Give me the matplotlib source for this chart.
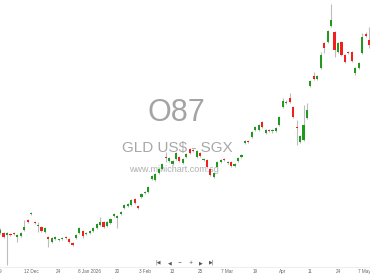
import matplotlib
matplotlib.use("Agg")
import matplotlib.pyplot as plt
import numpy as np

# candle data (price, arbitrary units, 1 unit ~ 1 px)
opens = [45, 45, 43, 44, 45, 41, 42, 48, 58, 64, 56, 52, 51, 46, 41, 36, 39, 38, 39, 41,
         39, 35, 40, 45, 47, 44, 45, 47, 50, 53, 56, 52, 55, 62, 60, 64, 70, 72, 73, 79,
         72, 81, 85, 86, 99, 98, 105, 109, 121, 117, 114, 119, 121, 115, 121, 129, 128, 121, 125, 118,
         118, 109, 101, 111, 116, 119, 115, 116, 112, 117, 121, 135, 137, 141, 148, 148, 156, 145, 148, 147,
         147, 153, 171, 175, 180, 171, 151, 136, 138, 160, 192, 202, 199, 210, 235, 236, 252, 246, 226, 236,
         223, 226, 226, 205, 210, 225, 244, 238]
closes = [48, 41, 45, 43, 44, 43, 45, 51, 56, 64.5, 55, 52.5, 47, 50, 39, 40, 41, 38.5, 40, 40,
          36, 33, 43, 50, 42, 45, 47, 50, 54, 56, 51, 56, 59, 64, 62, 66, 73, 74, 78, 75,
          70, 84, 85.5, 91, 102, 104, 109, 114, 120, 120, 117, 125, 117, 119, 124, 125, 127, 127, 122, 118.5,
          111, 103, 105, 116, 118, 118, 116, 112, 114, 120, 123, 137, 136, 146, 151, 153, 151, 148, 147, 147.5,
          150, 161, 177, 176, 176, 161, 150, 142, 153, 168, 197, 199, 202, 223, 230, 247, 258, 228, 235, 223,
          216, 225, 217, 210, 215, 241, 242, 233]
highs = [50, 46, 46, 45, 46, 44, 46, 58, 59, 66, 57, 56, 52, 51, 42, 41, 42, 39.5, 41, 42,
         40, 36, 44, 51, 48, 46, 48, 51, 55, 61, 57, 57, 60, 65, 63, 67, 74, 75, 79, 80,
         73, 85, 87, 92, 103, 105, 110, 115, 126, 121, 118, 126, 122, 120, 125, 130, 129, 128, 126, 120,
         119, 110, 106, 117, 119, 120, 117, 117, 115, 121, 124, 138, 138, 147, 152, 154, 157, 149, 149, 149,
         151, 162, 180, 178, 185, 172, 158, 143, 173, 175, 198, 206, 203, 226, 236, 248, 274, 247, 236, 237,
         224, 227, 227, 211, 216, 245, 246, 251]
lows = [44, 40, 13, 42, 43, 36, 41, 47, 55, 63, 54, 46, 46, 45, 31, 35, 38, 37, 38, 39,
        35, 32, 39, 44, 40, 43, 44, 46, 49, 52, 50, 51, 54, 61, 50, 63, 69, 71, 72, 74,
        69, 80, 84, 85, 98, 97, 104, 108, 116, 116, 113, 118, 116, 114, 120, 124, 126, 120, 121, 117,
        110, 102, 100, 110, 115, 117, 114, 111, 111, 116, 120, 134, 135, 140, 147, 147, 150, 144, 146, 145,
        146, 152, 170, 174, 175, 160, 133, 135, 137, 159, 191, 198, 198, 209, 225, 235, 251, 221, 225, 222,
        215, 224, 216, 203, 209, 224, 241, 230]

tick_pos = [0, 9, 16.8, 25.8, 34, 42, 50, 58, 65.8, 74, 82, 90, 98, 105.7]
tick_labels = ["9", "12 Dec", "24", "8 Jan 2026", "20", "3 Feb", "13", "25", "7 Mar", "19",
               "Apr", "11", "24", "7 May"]

up_col = "#1f9a1f"
down_col = "#f21f1f"
wick_col = "#bdbdbd"

fig = plt.figure(figsize=(3.7, 2.78), dpi=100)
ax = fig.add_axes([0, 0, 1, 1])
ax.set_xlim(-0.03, 107.28)
ax.set_ylim(0, 278)
ax.axis("off")

xs = np.arange(len(opens))
o = np.array(opens, dtype=float)
c = np.array(closes, dtype=float)
h = np.array(highs, dtype=float)
l = np.array(lows, dtype=float)

ax.vlines(xs, l, h, color=wick_col, linewidth=0.8, zorder=2)
cols = [up_col if cc >= oo else down_col for oo, cc in zip(o, c)]
bottoms = np.minimum(o, c)
heights = np.maximum(np.abs(c - o), 0.8)
ax.bar(xs, heights, bottom=bottoms, width=0.62, color=cols, linewidth=0, zorder=3)

# watermark
ax.text(0.476, 0.592, "O87", transform=ax.transAxes, ha="center", va="center",
        fontsize=22, color="#a4a4a4", family="Liberation Sans", zorder=1)
ax.text(0.478, 0.466, "GLD US$ - SGX", transform=ax.transAxes, ha="center", va="center",
        fontsize=11, color="#a8a8a8", family="Liberation Sans", zorder=1)
ax.text(0.470, 0.392, "www.minichart.com.sg", transform=ax.transAxes, ha="center", va="center",
        fontsize=6.5, color="#b0b0b0", family="Liberation Sans", zorder=1)

# bottom separator and date labels
ax.axhline(278 - 266.5, color="#eeeeee", linewidth=0.8, zorder=1)
for p, lab in zip(tick_pos, tick_labels):
    ax.text(p, 278 - 271.5, lab, ha="center", va="center", fontsize=3.3,
            color="#666666", family="Liberation Sans", zorder=4, clip_on=False)

# navigation buttons
nav = ["|\u25c0", "\u25c0", "\u2212", "+", "\u25b6", "\u25b6|"]
nav_x = [158, 170, 180, 191, 201, 212]
for nx, s in zip(nav_x, nav):
    fig.text(nx / 370, 1 - 262.5 / 278, s, ha="center", va="center", fontsize=3.5,
             color="#555555", family="DejaVu Sans")

fig.savefig("out.png", dpi=100)
